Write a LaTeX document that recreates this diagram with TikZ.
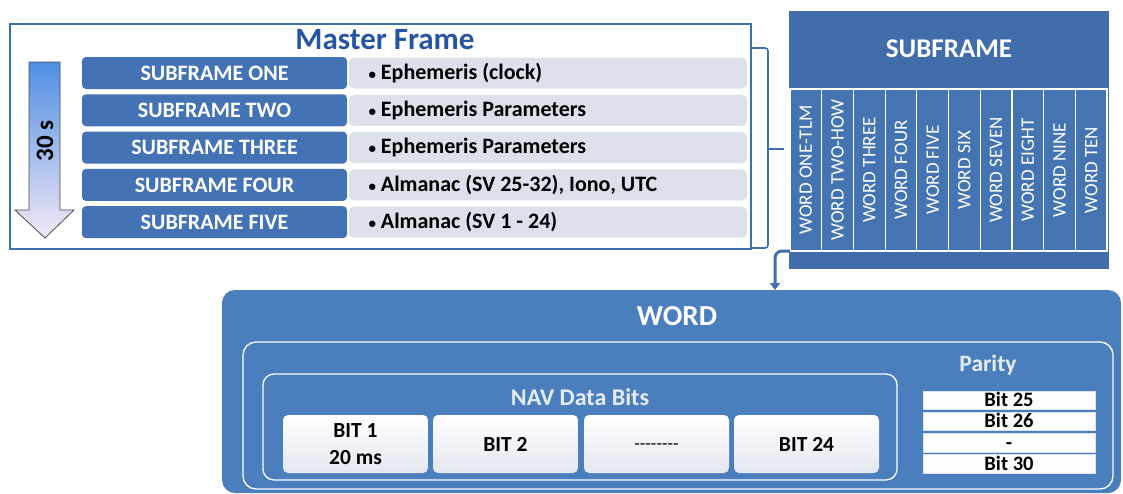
\documentclass[tikz,border=0pt]{standalone}
\usepackage{fontspec}
\setmainfont{Carlito}
\usetikzlibrary{arrows.meta}
\definecolor{frameblue}{HTML}{3E6EAE}
\definecolor{rowblue}{HTML}{4373B5}
\definecolor{rowgrey}{HTML}{DCE0EA}
\definecolor{subblue}{HTML}{416DAA}
\definecolor{colblue}{HTML}{4574B3}
\definecolor{wordblue}{HTML}{4A7EBD}
\definecolor{titleblue}{HTML}{2656A3}
\definecolor{arrowtop}{HTML}{4E8EE2}
\definecolor{arrowbot}{HTML}{F3E8F6}
\definecolor{navtext}{HTML}{E6ECF7}
\newcommand{\smallbul}{{\fontsize{15}{15}\selectfont •}}
\tikzset{
  box/.style={anchor=north west, inner sep=0pt, outer sep=0pt},
  sfrow/.style={box, fill=rowblue, rounded corners=4pt, minimum width=265pt, minimum height=32pt},
  sfrowtxt/.style={font=\bfseries\fontsize{22}{24}\selectfont, text=white},
  greyrow/.style={box, fill=rowgrey, rounded corners=5pt, minimum width=398pt, minimum height=31pt},
  greytxt/.style={font=\bfseries\fontsize{22}{24}\selectfont, text=black, anchor=west},
  wordcol/.style={box, draw=white, line width=1.2pt, fill=colblue, minimum width=31.7pt, minimum height=162pt},
  wordtxt/.style={rotate=90, font=\fontsize{19}{21}\selectfont, text=white},
  bitbox/.style={box, rounded corners=5pt, top color=white, bottom color=rowgrey!80, minimum width=145pt, minimum height=58pt},
  bittxt/.style={font=\bfseries\fontsize{21.5}{23}\selectfont, text=black},
  parbox/.style={box, fill=white!95!rowgrey, draw=rowgrey, line width=0.6pt, minimum width=172pt, minimum height=18.5pt},
  partxt/.style={font=\bfseries\fontsize{20.5}{21}\selectfont, text=black, inner sep=0pt, text height=13pt, text depth=0pt},
}
\begin{document}
\begin{tikzpicture}[x=1pt,y=-1pt]
\useasboundingbox (0,0) rectangle (1123,493);
% master frame
\node[box, draw=frameblue, line width=1.5pt, minimum width=741pt, minimum height=225pt] (master) at (10,24) {};
\node[font=\bfseries\fontsize{31}{33}\selectfont, text=titleblue] (mtitle) at (385,40) {Master Frame};
% rows
\foreach \i/\t/\d in {0/ONE/{Ephemeris (clock)},1/TWO/{Ephemeris Parameters},2/THREE/{Ephemeris Parameters},3/FOUR/{Almanac (SV 25-32), Iono, UTC},4/FIVE/{Almanac (SV 1 - 24)}}{
  \node[sfrow] (sf\i) at (82,57+37.3*\i) {};
  \node[sfrowtxt] (sft\i) at (sf\i.center) {SUBFRAME \t};
  \node[greyrow] (gr\i) at (349,57.5+37.3*\i) {};
  \node[greytxt] (grt\i) at ([xshift=16pt]gr\i.west) {\smallbul\ \d};
}
% time arrow
\path[draw=black!70, line width=0.8pt, top color=arrowtop, bottom color=arrowbot]
  (29,62) -- (60,62) -- (60,210) -- (74,210) -- (45,238) -- (15,210) -- (29,210) -- cycle;
\node[rotate=90, font=\bfseries\fontsize{25}{27}\selectfont] (thirty) at (45,141) {30 s};
% brace
\coordinate (b1) at (751,48);
\coordinate (b2) at (768,48);
\coordinate (b3) at (768,248);
\coordinate (b4) at (751,248);
\coordinate (bm) at (768,149);
\coordinate (bt) at (784,149);
\draw[frameblue, line width=1.6pt, rounded corners=3pt] (b1) -- (b2) -- (b3) -- (b4);
\draw[frameblue, line width=1.6pt] (bm) -- (bt);
% subframe block
\node[box, fill=subblue, minimum width=320pt, minimum height=258pt] (subframe) at (789,11) {};
\node[font=\bfseries\fontsize{27}{29}\selectfont, text=white] (sftitle) at (949,49) {SUBFRAME};
\foreach \i/\t in {0/WORD ONE-TLM,1/WORD TWO-HOW,2/WORD THREE,3/WORD FOUR,4/WORD FIVE,5/WORD SIX,6/WORD SEVEN,7/WORD EIGHT,8/WORD NINE,9/WORD TEN}{
  \node[wordcol] (wc\i) at (790+31.7*\i,89) {};
  \node[wordtxt] (wt\i) at (wc\i.center) {\t};
}
% WORD block
\node[box, fill=wordblue, rounded corners=13pt, minimum width=899pt, minimum height=203pt] (word) at (222,290) {};
\coordinate (arrend) at (775,290);
\draw[-{Triangle[length=7pt,width=10pt]}, color=frameblue, line width=3pt, rounded corners=7pt] (wc0.south west) -| (arrend);
\node[font=\bfseries\fontsize{29}{31}\selectfont, text=white] (wtitle) at (677,316) {WORD};
\node[box, draw=white, line width=1.3pt, rounded corners=13pt, minimum width=870pt, minimum height=147pt] (inner) at (243,342) {};
\node[box, draw=white, line width=1.3pt, rounded corners=11pt, minimum width=634pt, minimum height=106pt] (nav) at (263,374) {};
\node[font=\bfseries\fontsize{24}{26}\selectfont, text=navtext] (navtitle) at (580,397) {NAV Data Bits};
\node[bitbox] (bit1) at (283,415) {};
\node[bittxt, align=center] (bit1t) at (bit1.center) {BIT 1\\[4pt]20 ms};
\node[bitbox] (bit2) at (433,415) {};
\node[bittxt] (bit2t) at (bit2.center) {BIT 2};
\node[bitbox] (bitd) at (584,415) {};
\node[font=\fontsize{18}{20}\selectfont, text=black] (bitdt) at ([yshift=-3pt]bitd.center) {-{}-{}-{}-{}-{}-{}-{}-};
\node[bitbox] (bit24) at (734,415) {};
\node[bittxt] (bit24t) at (bit24.center) {BIT 24};
\node[font=\bfseries\fontsize{23.5}{25}\selectfont, text=navtext] (parity) at (988,365) {Parity};
\foreach \i/\t in {0/Bit 25,1/Bit 26,2/-,3/Bit 30}{
  \node[parbox] (pb\i) at (923,391+21.2*\i) {};
  \node[partxt] (pbt\i) at (pb\i.center) {\t};
}
\end{tikzpicture}
\end{document}
